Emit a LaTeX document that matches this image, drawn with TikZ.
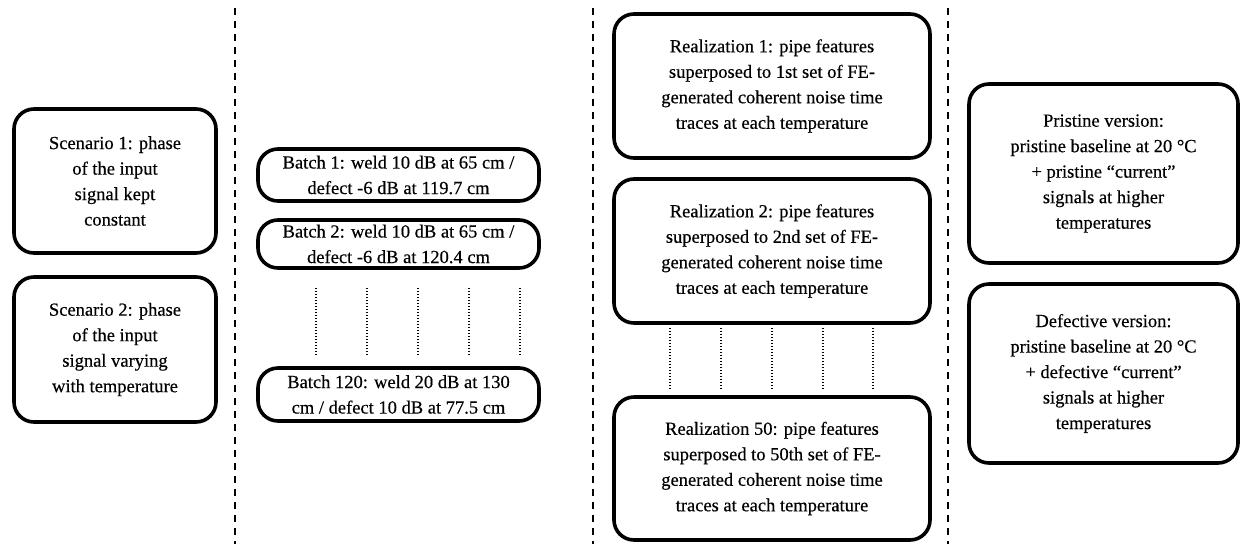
\documentclass[tikz,border=0pt]{standalone}
\usepackage{fontspec}
\setmainfont{Liberation Serif}[FakeBold=0.4]
\begin{document}
\begin{tikzpicture}[x=1pt,y=-1pt,
  box/.style={draw=black, line width=3.6pt, rounded corners=20pt, fill=white,
    align=center, inner sep=0pt, font=\fontsize{18.5}{25.5}\selectfont},
  divider/.style={line width=1.4pt, dash pattern=on 7pt off 6pt},
  dotline/.style={line width=1.3pt, dash pattern=on 1.4pt off 1.6pt}]
\useasboundingbox (0,0) rectangle (1241,544);
% dividers
\draw[divider] (235,8) -- (235,544);
\draw[divider] (593,8) -- (593,544);
\draw[divider] (948,8) -- (948,544);
% scenarios
\node[box, minimum width=202pt, minimum height=144pt] (s1) at (115,181)
  {Scenario 1: phase\\of the input\\signal kept\\constant};
\node[box, minimum width=202pt, minimum height=145pt] (s2) at (115,349.5)
  {Scenario 2: phase\\of the input\\signal varying\\with temperature};
% batches
\node[box, minimum width=281pt, minimum height=52pt] (b1) at (398.5,175)
  {Batch 1: weld 10 dB at 65 cm /\\defect -6 dB at 119.7 cm};
\node[box, minimum width=281pt, minimum height=48pt] (b2) at (398.5,244)
  {Batch 2: weld 10 dB at 65 cm /\\defect -6 dB at 120.4 cm};
\node[box, minimum width=281pt, minimum height=53pt] (b120) at (398.5,394.5)
  {Batch 120: weld 20 dB at 130\\cm / defect 10 dB at 77.5 cm};
\foreach \x in {316,367,418,469,520}
  \draw[dotline, shorten <=18pt, shorten >=12pt] (b2.south -| \x,0) -- (b120.north -| \x,0);
% realizations
\node[box, minimum width=316pt, minimum height=144pt] (r1) at (772,86)
  {Realization 1: pipe features\\superposed to 1st set of FE-\\generated coherent noise time\\traces at each temperature};
\node[box, minimum width=316pt, minimum height=144pt] (r2) at (772,251)
  {Realization 2: pipe features\\superposed to 2nd set of FE-\\generated coherent noise time\\traces at each temperature};
\node[box, minimum width=316pt, minimum height=143pt] (r50) at (772,468.5)
  {Realization 50: pipe features\\superposed to 50th set of FE-\\generated coherent noise time\\traces at each temperature};
\foreach \x in {670,721,772,823,873}
  \draw[dotline, shorten <=3pt, shorten >=5pt] (r2.south -| \x,0) -- (r50.north -| \x,0);
% versions
\node[box, minimum width=269pt, minimum height=179pt] (p) at (1103.5,173.5)
  {Pristine version:\\pristine baseline at 20 °C\\+ pristine “current”\\signals at higher\\temperatures};
\node[box, minimum width=269pt, minimum height=179pt] (d) at (1103.5,373.5)
  {Defective version:\\pristine baseline at 20 °C\\+ defective “current”\\signals at higher\\temperatures};
\end{tikzpicture}
\end{document}
